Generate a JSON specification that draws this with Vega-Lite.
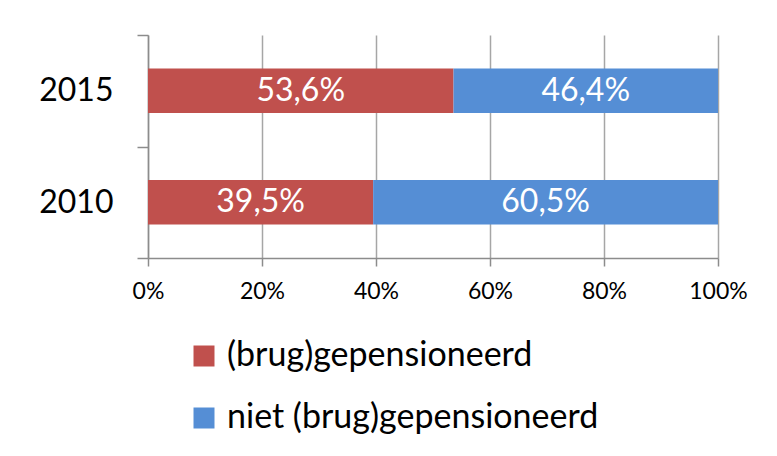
{
  "$schema": "https://vega.github.io/schema/vega-lite/v6.json",
  "width": 570,
  "height": 223,
  "autosize": {"type": "none"},
  "padding": {"left": 148, "top": 35, "right": 59, "bottom": 198},
  "config": {
    "font": "Lato",
    "view": {"stroke": null},
    "locale": {"number": {"decimal": ",", "thousands": ".", "grouping": [3], "currency": ["€", ""]}}
  },
  "data": {
    "values": [
      {"jaar": "2015", "status": "(brug)gepensioneerd", "aandeel": 0.536},
      {"jaar": "2015", "status": "niet (brug)gepensioneerd", "aandeel": 0.464},
      {"jaar": "2010", "status": "(brug)gepensioneerd", "aandeel": 0.395},
      {"jaar": "2010", "status": "niet (brug)gepensioneerd", "aandeel": 0.605}
    ]
  },
  "transform": [
    {"stack": "aandeel", "groupby": ["jaar"], "sort": [{"field": "status", "order": "ascending"}], "as": ["x0", "x1"]},
    {"calculate": "(datum.x0 + datum.x1) / 2", "as": "mid"}
  ],
  "encoding": {
    "y": {
      "field": "jaar", "type": "nominal", "sort": ["2015", "2010"],
      "scale": {"paddingInner": 0, "paddingOuter": 0},
      "axis": {
        "title": null, "tickBand": "extent", "domainColor": "#8c8c8c", "tickColor": "#8c8c8c",
        "domainWidth": 1.5, "tickWidth": 1.5, "tickSize": 11, "labelFontSize": 32,
        "labelColor": "black", "labelPadding": 24, "grid": false
      }
    }
  },
  "layer": [
    {
      "mark": {"type": "bar", "height": {"band": 0.4}},
      "encoding": {
        "x": {
          "field": "x0", "type": "quantitative", "scale": {"domain": [0, 1]},
          "axis": {
            "title": null, "format": "%", "values": [0, 0.2, 0.4, 0.6, 0.8, 1],
            "grid": true, "gridColor": "#a6a6a6", "gridWidth": 1.5, "labelFlush": false,
            "domainColor": "#8c8c8c", "domainWidth": 1.5, "tickColor": "#8c8c8c", "tickWidth": 1.5,
            "tickSize": 8, "labelFontSize": 23, "labelColor": "black", "labelPadding": 14
          }
        },
        "x2": {"field": "x1"},
        "color": {
          "field": "status", "type": "nominal",
          "scale": {"domain": ["(brug)gepensioneerd", "niet (brug)gepensioneerd"], "range": ["#C0504D", "#558ED5"]},
          "legend": {
            "title": null, "orient": "none", "legendX": 39, "legendY": 304, "direction": "vertical",
            "symbolType": "square", "symbolSize": 441, "symbolStrokeWidth": 0, "symbolOpacity": 1,
            "labelFontSize": 34, "labelColor": "black", "labelOffset": 6, "rowPadding": 28, "labelLimit": 600
          }
        }
      }
    },
    {
      "mark": {"type": "text", "color": "white", "fontSize": 32},
      "encoding": {
        "x": {"field": "mid", "type": "quantitative"},
        "text": {"field": "aandeel", "type": "quantitative", "format": ".1%"}
      }
    }
  ]
}
